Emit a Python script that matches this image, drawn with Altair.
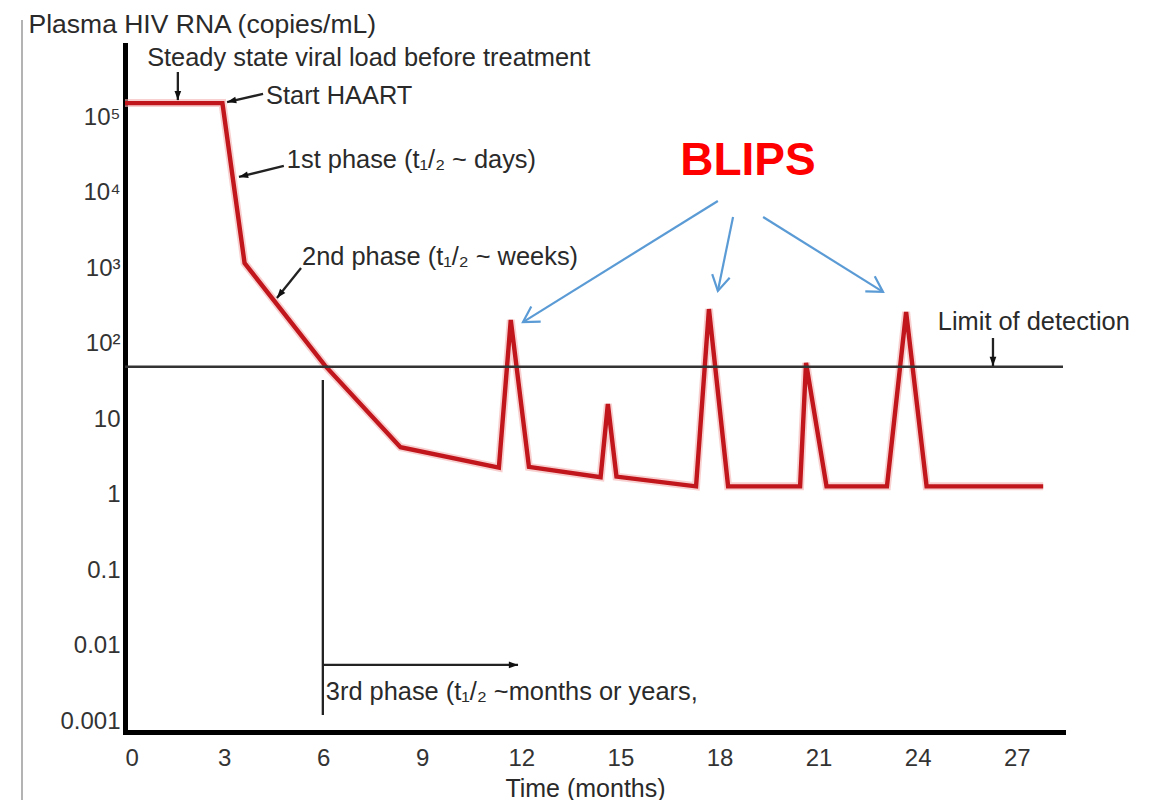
import math
import altair as alt
import pandas as pd

# ---------------- data ----------------
months = [0, 2.95, 3.62, 6.05, 8.34, 11.32, 11.68, 12.23, 14.40, 14.62, 14.88,
          17.29, 17.68, 18.26, 20.44, 20.62, 21.24, 23.07, 23.65, 24.27, 27.80]
viral_load = [155000, 155000, 1180, 52, 4.3, 2.3, 208, 2.35, 1.72, 16, 1.75,
              1.3, 290, 1.3, 1.3, 56, 1.3, 1.3, 265, 1.3, 1.3]
limit_of_detection = 50

x_ticks = [0, 3, 6, 9, 12, 15, 18, 21, 24, 27]
y_ticks = [0.001, 0.01, 0.1, 1, 10, 100, 1000, 10000, 100000]
y_tick_labels = ["0.001", "0.01", "0.1", "1", "10", "10²", "10³", "10⁴", "10⁵"]

note_text = ["Steady state viral load before treatment", "Start HAART",
             "1st phase (t₁/₂ ~ days)", "2nd phase (t₁/₂ ~ weeks)",
             "3rd phase (t₁/₂ ~months or years,", "Limit of detection"]
note_month = [0.67, 4.27, 4.90, 5.36, 6.08, 24.61]
note_value = [6.2e5, 1.93e5, 2.7e4, 1.4e3, 0.00246, 195]

blips_text = "BLIPS"
blips_month = 18.86
blips_value = 26500

# black annotation arrows: start (m1, v1) -> tip (m2, v2)
black_m1 = [1.60, 4.18, 4.81, 5.33, 26.28, 5.99]
black_v1 = [4.0e5, 2.05e5, 22800, 1016, 120, 0.0056]
black_m2 = [1.60, 3.09, 3.45, 4.60, 26.28, 11.90]
black_v2 = [1.7e5, 1.6e5, 16300, 406, 51, 0.0056]

# vertical marker of the 3rd phase (no head)
phase3_m = [5.99]
phase3_v1 = [33.4]
phase3_v2 = [0.00122]

# blue "BLIPS" arrows
blue_m1 = [17.95, 18.41, 19.32]
blue_v1 = [7830, 4810, 4810]
blue_m2 = [12.05, 17.95, 22.95]
blue_v2 = [195, 504, 489]

# ---------------- layout ----------------
W, H = 938, 687
XMIN, XMAX = 0.0, 28.4
LMIN, LMAX = -3.14, 5.96
FONT = "Liberation Sans"
TXT = "#2a2a2a"

xs = alt.Scale(domain=[XMIN, XMAX], nice=False, zero=False)
ys = alt.Scale(type="log", domain=[10 ** LMIN, 10 ** LMAX], nice=False)


def sx(m):
    return (m - XMIN) / (XMAX - XMIN) * W


def sy(v):
    return (LMAX - math.log10(v)) / (LMAX - LMIN) * H


def head_angle(m1, v1, m2, v2):
    dx = sx(m2) - sx(m1)
    dy = sy(v2) - sy(v1)
    return math.degrees(math.atan2(dx, -dy)) % 360


label_expr = ""
for v, lab in zip(y_ticks, y_tick_labels):
    label_expr += f"abs(log(datum.value)/LN10 - ({math.log10(v)})) < 0.01 ? '{lab}' : "
label_expr += "''"

x_axis = alt.Axis(values=x_ticks, title="Time (months)", labelPadding=26,
                  labelBaseline="middle", titleX=460, titleY=56,
                  titleAlign="center", titleBaseline="middle", labelOverlap=False)
y_axis = alt.Axis(values=y_ticks, labelExpr=label_expr,
                  title="Plasma HIV RNA (copies/mL)", titleAngle=0,
                  titleAlign="left", titleBaseline="middle",
                  titleX=-97, titleY=-21, titleFontSize=26.5,
                  labelPadding=5, labelFlush=False, labelOverlap=False)


def X(field):
    return alt.X(field, scale=xs, axis=x_axis)


def Y(field):
    return alt.Y(field, scale=ys, axis=y_axis)


curve = pd.DataFrame({"m": months, "v": viral_load})

halo = alt.Chart(curve).mark_line(color="#f4b0b0", strokeWidth=8, opacity=0.6).encode(
    x=X("m:Q"), y=Y("v:Q"))

line = alt.Chart(curve).mark_line(color="#c0161c", strokeWidth=4.4).encode(
    x=X("m:Q"), y=Y("v:Q"))

lod = alt.Chart(pd.DataFrame({"v": [limit_of_detection]})).mark_rule(
    color="#333333", strokeWidth=2.5).encode(y=Y("v:Q"))

black_df = pd.DataFrame({"m1": black_m1 + phase3_m, "v1": black_v1 + phase3_v1,
                         "m2": black_m2 + phase3_m, "v2": black_v2 + phase3_v2})
black_rules = alt.Chart(black_df).mark_rule(color="#222222", strokeWidth=2.3).encode(
    x=X("m1:Q"), x2="m2:Q", y=Y("v1:Q"), y2="v2:Q")

black_heads_df = pd.DataFrame({
    "m": black_m2, "v": black_v2,
    "angle": [head_angle(a, b, c, d) for a, b, c, d in zip(black_m1, black_v1, black_m2, black_v2)],
})
black_heads = alt.Chart(black_heads_df).mark_point(
    shape="M0,0L-0.55,1.5L0.55,1.5Z", filled=True, color="#111111", size=150, opacity=1).encode(
    x=X("m:Q"), y=Y("v:Q"), angle=alt.Angle("angle:Q", scale=None))

blue_df = pd.DataFrame({"m1": blue_m1, "v1": blue_v1, "m2": blue_m2, "v2": blue_v2})
blue_rules = alt.Chart(blue_df).mark_rule(color="#5b9bd5", strokeWidth=2.2).encode(
    x=X("m1:Q"), x2="m2:Q", y=Y("v1:Q"), y2="v2:Q")

blue_heads_df = pd.DataFrame({
    "m": blue_m2, "v": blue_v2,
    "angle": [head_angle(a, b, c, d) for a, b, c, d in zip(blue_m1, blue_v1, blue_m2, blue_v2)],
})
blue_heads = alt.Chart(blue_heads_df).mark_point(
    shape="M-0.7,1.2L0,0L0.7,1.2", filled=False, color="#5b9bd5", strokeWidth=2.2,
    size=650, opacity=1).encode(
    x=X("m:Q"), y=Y("v:Q"), angle=alt.Angle("angle:Q", scale=None))

notes = alt.Chart(pd.DataFrame({"m": note_month, "v": note_value, "t": note_text})).mark_text(
    align="left", baseline="middle", font=FONT, fontSize=25.4, color=TXT).encode(
    x=X("m:Q"), y=Y("v:Q"), text="t:N")

blips = alt.Chart(pd.DataFrame({"m": [blips_month], "v": [blips_value], "t": [blips_text]})).mark_text(
    align="center", baseline="middle", font=FONT, fontSize=46, fontWeight="bold",
    color="#ff0000").encode(
    x=X("m:Q"), y=Y("v:Q"), text="t:N")

border = alt.Chart(pd.DataFrame({"k": [0]})).mark_rule(color="#9a9a9a", strokeWidth=1.5).encode(
    x=alt.value(-103), y=alt.value(-25), y2=alt.value(H + 70))

chart = alt.layer(
    halo, line, lod, black_rules, black_heads, blue_rules, blue_heads, notes, blips, border,
).properties(
    width=W, height=H,
    autosize=alt.AutoSizeParams(type="none"),
    padding={"left": 117, "top": 37, "right": 80, "bottom": 68},
).configure_axis(
    domainColor="black", domainWidth=5, domainCap="square", ticks=False, tickSize=0,
    grid=False, labelFont=FONT, labelFontSize=24, labelColor="#333333",
    titleFont=FONT, titleFontSize=25, titleFontWeight="normal", titleColor=TXT,
).configure_view(stroke=None)

chart.save("out.html", embed_options={"renderer": "svg", "actions": False})
